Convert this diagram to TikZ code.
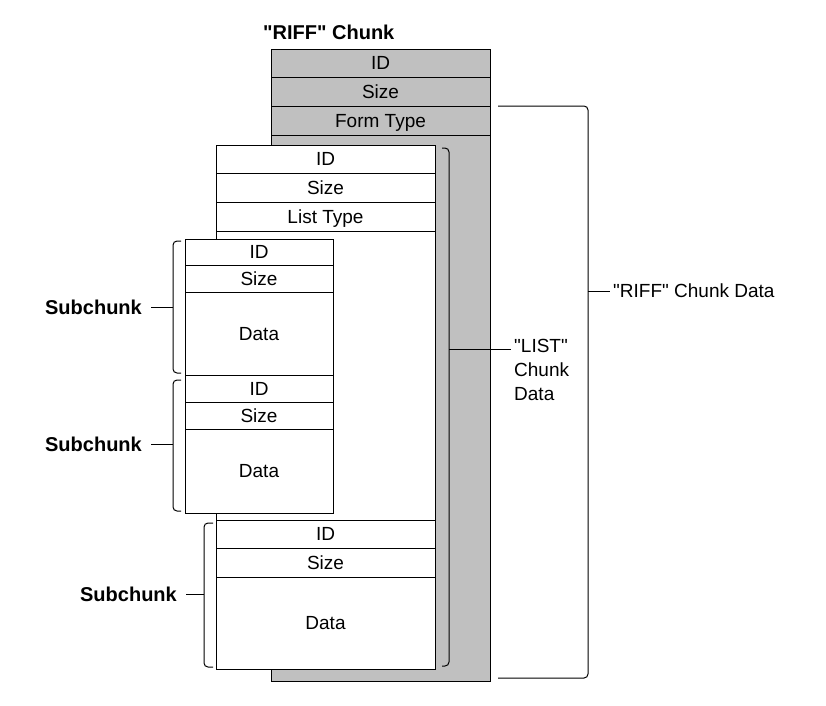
\documentclass[tikz,border=0pt]{standalone}
\usepackage{fontspec}
\setmainfont{Liberation Sans}
\usetikzlibrary{positioning,calc}
\definecolor{riffgray}{RGB}{192,192,192}
\newcommand{\rowfont}{\fontsize{19}{24}\selectfont}
\newcommand{\labelfont}{\fontsize{20}{24}\selectfont\bfseries}
\tikzset{
    riffrow/.style={
        rectangle,                % fila de un chunk
        draw=black,               % borde negro fino
        line width=1pt,
        fill=riffgray,            % gris del chunk RIFF
        minimum width=219pt,      % ancho del chunk
        minimum height=28pt,      % alto de una fila
        inner sep=0pt,
        outer sep=0pt,            % filas pegadas sin hueco
        text height=13.5pt,       % texto centrado por la altura de mayúsculas
        text depth=0pt,
        font=\rowfont
    },
    listrow/.style={
        riffrow,
        fill=white                % el chunk LIST va en blanco encima
    },
    subrow/.style={
        listrow,
        minimum width=148pt       % subchunks más estrechos
    },
    bracket/.style={
        line width=1pt,
        rounded corners=4pt       % llaves con las puntas curvas
    },
    chunklabel/.style={
        font=\labelfont,          % etiquetas en negrita
        inner xsep=9pt            % hueco entre texto y raya
    },
    notelabel/.style={
        font=\rowfont,
        align=left,
        inner sep=3pt
    }
}
\begin{document}
\begin{tikzpicture}[x=1pt,y=-1pt]
            \useasboundingbox (0,0) rectangle (826,705);

            \node[riffrow, anchor=north west] (riffid) at (271,49) {ID};
            \node[riffrow, below=0pt of riffid, minimum height=29pt] (riffsize) {Size};
            \node[riffrow, below=0pt of riffsize, minimum height=29pt] (riffform) {Form Type};
            \node[riffrow, below=0pt of riffform, minimum height=546pt] (riffdata) {};
            \node[chunklabel, anchor=base west, inner sep=0pt] (rifftitle) at (263,39) {\textquotedbl RIFF\textquotedbl{} Chunk};

            \node[listrow, anchor=north west] (listid) at (216,145) {ID};
            \node[listrow, below=0pt of listid, minimum height=29pt] (listsize) {Size};
            \node[listrow, below=0pt of listsize, minimum height=29pt] (listtype) {List Type};
            \node[listrow, below=0pt of listtype, minimum height=438pt] (listdata) {};

            \node[subrow, anchor=north west, minimum height=26pt] (s1id) at (185,239) {ID};
            \node[subrow, below=0pt of s1id, minimum height=27pt] (s1size) {Size};
            \node[subrow, below=0pt of s1size, minimum height=83pt] (s1data) {Data};

            \node[subrow, below=0pt of s1data, minimum height=27pt] (s2id) {ID};
            \node[subrow, below=0pt of s2id, minimum height=27pt] (s2size) {Size};
            \node[subrow, below=0pt of s2size, minimum height=84pt] (s2data) {Data};

            \node[listrow, anchor=north west] (s3id) at (216,520) {ID};
            \node[listrow, below=0pt of s3id, minimum height=29pt] (s3size) {Size};
            \node[listrow, below=0pt of s3size, minimum height=92pt] (s3data) {Data};

            \draw[bracket] ($(s1id.north west)+(-4,2)$) -| ($(s1data.south west)+(-12,-2)$) -- ($(s1data.south west)+(-4,-2)$);
            \coordinate (s1mid) at ($(s1id.north west)!0.5!(s1data.south west)+(-12,0)$);
            \node[chunklabel, anchor=east] (s1label) at ($(s1mid)+(-22,0)$) {Subchunk};
            \draw[bracket] (s1mid) -- (s1label.east);

            \draw[bracket] ($(s2id.north west)+(-4,5)$) -| ($(s2data.south west)+(-12,-2)$) -- ($(s2data.south west)+(-4,-2)$);
            \coordinate (s2mid) at ($(s2id.north west)!0.5!(s2data.south west)+(-12,0)$);
            \node[chunklabel, anchor=east] (s2label) at ($(s2mid)+(-22,0)$) {Subchunk};
            \draw[bracket] (s2mid) -- (s2label.east);

            \draw[bracket] ($(s3id.north west)+(-3,3)$) -| ($(s3data.south west)+(-12,-2)$) -- ($(s3data.south west)+(-3,-2)$);
            \coordinate (s3mid) at ($(s3id.north west)!0.5!(s3data.south west)+(-12,0)$);
            \node[chunklabel, anchor=east] (s3label) at ($(s3mid)+(-18,0)$) {Subchunk};
            \draw[bracket] (s3mid) -- (s3label.east);

            \draw[bracket] ($(listid.north east)+(7,3)$) -| ($(listdata.south east)+(14,-3)$) -- ($(listdata.south east)+(7,-3)$);
            \coordinate (listmid) at ($(listid.north east)+(14,204)$);
            \node[notelabel, anchor=north west] (listnote) at ($(listmid)+(62,-13)$) {\textquotedbl LIST\textquotedbl\\Chunk\\Data};
            \draw[bracket] (listmid) -- (listmid -| listnote.west);

            \draw[bracket] ($(riffform.north east)+(8,0)$) -| ($(riffdata.south east)+(98,-3)$) -- ($(riffdata.south east)+(8,-3)$);
            \coordinate (riffmid) at ($(riffform.north east)+(98,185)$);
            \node[notelabel, anchor=west] (riffnote) at ($(riffmid)+(22,0)$) {\textquotedbl RIFF\textquotedbl{} Chunk Data};
            \draw[bracket] (riffmid) -- (riffnote.west);
\end{tikzpicture}
\end{document}
